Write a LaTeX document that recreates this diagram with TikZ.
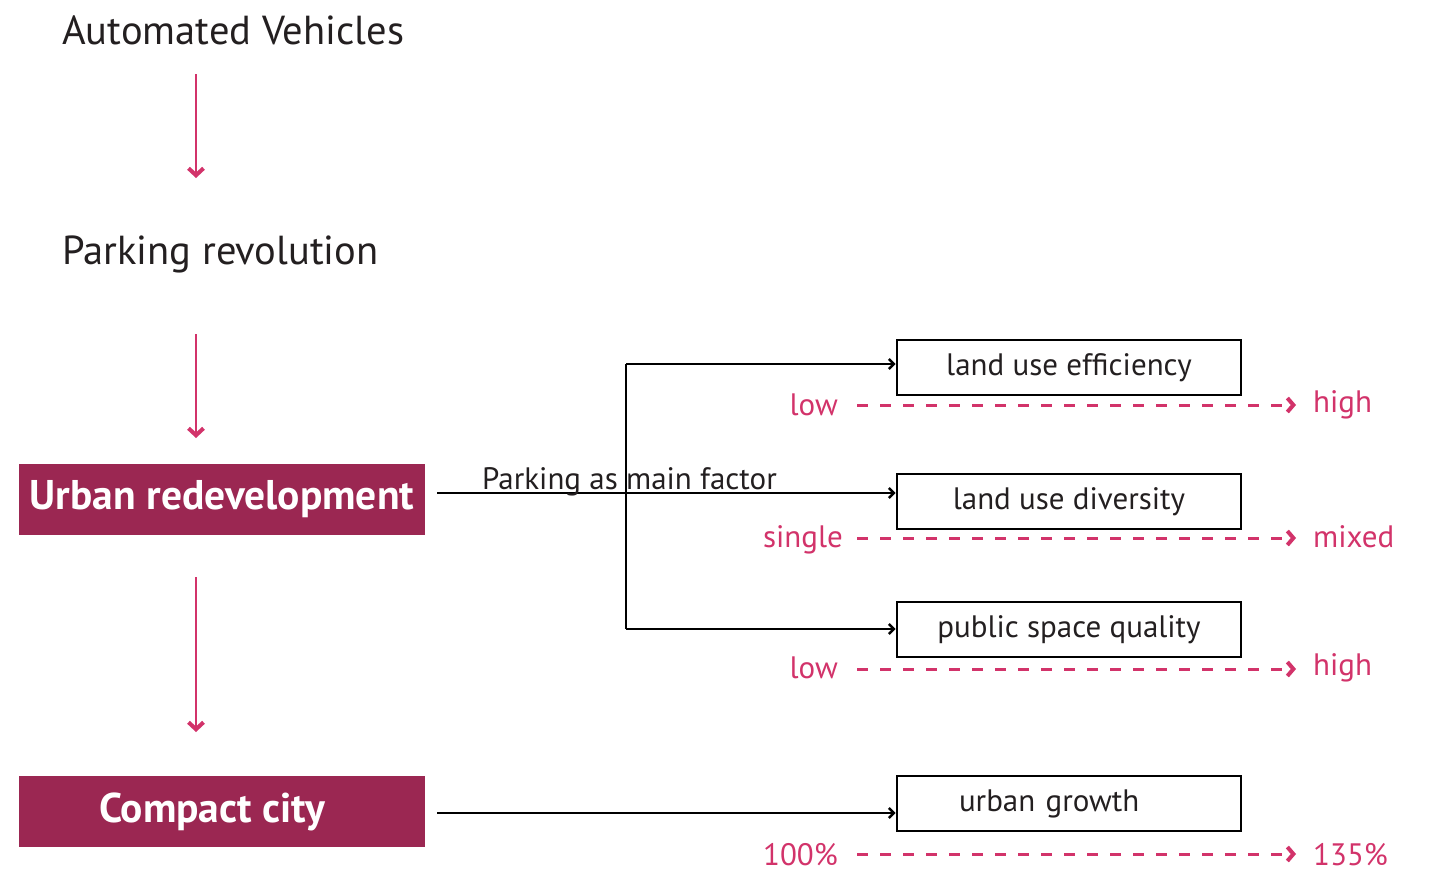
\documentclass[tikz,border=0pt]{standalone}
\usepackage{fontspec}
\setmainfont{PT Sans}
\usetikzlibrary{arrows.meta}
\definecolor{boxfill}{HTML}{9B2752}
\definecolor{pinkc}{HTML}{D2336A}
\definecolor{txt}{HTML}{231F20}
\begin{document}
\begin{tikzpicture}[x=1pt,y=-1pt,
  toptext/.style={anchor=west,inner sep=0pt,text=txt,font=\fontsize{40.5}{46}\selectfont},
  bigbox/.style={fill=boxfill,minimum width=406pt,minimum height=71pt,inner sep=0pt,text=white,font=\bfseries\fontsize{41.5}{48}\selectfont},
  factorbox/.style={draw=black,line width=2.6pt,minimum width=344pt,minimum height=55pt,inner sep=0pt,text=txt,font=\fontsize{31}{36}\selectfont},
  pinkarrow/.style={draw=pinkc,line width=2.2pt,-{Straight Barb[length=7pt,width=15pt,line width=4pt]}},
  conn/.style={draw=black,line width=1.4pt,-{Straight Barb[length=5pt,width=10pt,line width=2.6pt]}},
  scaleline/.style={draw=pinkc,line width=3pt,dash pattern=on 11pt off 12pt,-{Straight Barb[length=6pt,width=14pt,line width=4pt]}},
  lefttxt/.style={anchor=east,inner sep=0pt,text=pinkc,font=\fontsize{31}{36}\selectfont},
  righttxt/.style={anchor=west,inner sep=0pt,text=pinkc,font=\fontsize{31}{36}\selectfont}]
\useasboundingbox (0,0) rectangle (1436,873);

\node[toptext] (av) at (62,30) {Automated Vehicles};
\node[toptext] (pr) at (62,254) {Parking revolution};
\node[bigbox] (ur) at (222,499.5) {Urban redevelopment};
\node[bigbox] (cc) at (222,811.5) {\hspace*{-20pt}Compact city};

\coordinate (a1s) at (196,74); \coordinate (a1e) at (196,178);
\coordinate (a2s) at (196,334); \coordinate (a2e) at (196,438);
\coordinate (a3s) at (196,577); \coordinate (a3e) at (196,732);
\draw[pinkarrow] (a1s) -- (a1e);
\draw[pinkarrow] (a2s) -- (a2e);
\draw[pinkarrow] (a3s) -- (a3e);

\node[factorbox] (b1) at (1069,367.5) {\raisebox{-3pt}{land use efficiency}};
\node[factorbox] (b2) at (1069,501.5) {\raisebox{-1pt}{land use diversity}};
\node[factorbox] (b3) at (1069,629.5) {\raisebox{-1pt}{public space quality}};
\node[factorbox,text width=300pt,align=left] (b4) at (1069,803.5) {\hspace*{40pt}\raisebox{-1pt}{urban growth}};

\coordinate (s2) at (437,493);
\coordinate (s4) at (437,813);
\draw[conn] (s2) -- (b2.west |- s2);
\draw[line width=1.4pt] (626,364) -- (626,629);
\draw[conn] (626,364) -- (b1.west |- 0,364);
\draw[conn] (626,629) -- (b3.west |- 0,629);
\draw[conn] (s4) -- (b4.west |- s4);
\node[anchor=base west,inner sep=0pt,text=txt,font=\fontsize{31}{36}\selectfont] (pf) at (482,489) {Parking as main factor};

\node[lefttxt] (l1) at (838,405) {low};
\node[righttxt] (r1) at (1313,405) {high};
\node[lefttxt] (l2) at (843,540) {single};
\node[righttxt] (r2) at (1313,537) {mixed};
\node[lefttxt] (l3) at (838,668) {low};
\node[righttxt] (r3) at (1313,668) {high};
\node[lefttxt] (l4) at (838,855) {100\%};
\node[righttxt] (r4) at (1313,855) {135\%};

\coordinate (d1s) at (857,405); \coordinate (d1e) at (1296,405);
\coordinate (d2s) at (857,538); \coordinate (d2e) at (1296,538);
\coordinate (d3s) at (857,669); \coordinate (d3e) at (1296,669);
\coordinate (d4s) at (857,854); \coordinate (d4e) at (1296,854);
\draw[scaleline] (d1s) -- (d1e);
\draw[scaleline] (d2s) -- (d2e);
\draw[scaleline] (d3s) -- (d3e);
\draw[scaleline] (d4s) -- (d4e);
\end{tikzpicture}
\end{document}
